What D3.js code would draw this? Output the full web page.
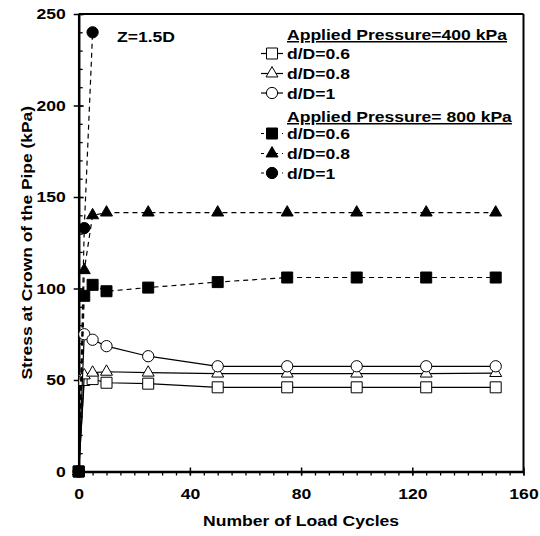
<html lang="en">
<head>
<meta charset="utf-8">
<title>Stress at crown of the pipe</title>
<style>
  body { margin: 0; background: white; }
  svg text { font-family: "Liberation Sans", Arial, Helvetica, sans-serif; font-weight: bold; fill: black; }
  .axis path, .axis line { stroke: black; }
</style>
</head>
<body>
<div id="chart"></div>
<script src="https://d3js.org/d3.v7.min.js"></script>
<script>
// data
var cycles = [0, 2, 5, 10, 25, 50, 75, 100, 125, 150];
var cyclesShort = [0, 2, 5];

var p400_d06 = [0, 50, 50.5, 48.5, 48, 46, 46, 46, 46, 46];
var p400_d08 = [0, 52.5, 54, 54.5, 54, 53.5, 53.5, 53.5, 53.5, 53.8];
var p400_d1  = [0, 75, 72, 68.5, 63, 57.5, 57.5, 57.5, 57.5, 57.5];
var p800_d06 = [0, 96, 102, 98.5, 100.5, 103.5, 106, 106, 106, 106];
var p800_d08 = [0, 110, 140, 141.5, 141.5, 141.5, 141.5, 141.5, 141.5, 141.5];
var p800_d1  = [0, 133, 240];

var xTicks = [0, 40, 80, 120, 160];
var yTicks = [0, 50, 100, 150, 200, 250];

var series = [
  { label: "d/D=0.6", x: cycles, y: p400_d06, shape: "square", filled: false, dashed: false },
  { label: "d/D=0.8", x: cycles, y: p400_d08, shape: "triangle", filled: false, dashed: false },
  { label: "d/D=1", x: cycles, y: p400_d1, shape: "circle", filled: false, dashed: false },
  { label: "d/D=0.6", x: cycles, y: p800_d06, shape: "square", filled: true, dashed: true },
  { label: "d/D=0.8", x: cycles, y: p800_d08, shape: "triangle", filled: true, dashed: true },
  { label: "d/D=1", x: cyclesShort, y: p800_d1, shape: "circle", filled: true, dashed: true }
];

var width = 540, height = 536;
var svg = d3.select("#chart").append("svg")
  .attr("width", width).attr("height", height);

var x = d3.scaleLinear().domain([0, 160]).range([78.7, 523.5]);
var y = d3.scaleLinear().domain([0, 250]).range([471.5, 14]);

var fs = 15;
// text in the source is wider than it is tall
function stretch(sel, k) {
  sel.each(function () {
    var w = this.getComputedTextLength();
    d3.select(this).attr("textLength", w * k).attr("lengthAdjust", "spacingAndGlyphs");
  });
}

// frame (top and right)
svg.append("line").attr("x1", x(0)).attr("x2", x(160)).attr("y1", y(250)).attr("y2", y(250))
  .attr("stroke", "black").attr("stroke-width", 2);
svg.append("line").attr("x1", x(160)).attr("x2", x(160)).attr("y1", y(0)).attr("y2", y(250))
  .attr("stroke", "black").attr("stroke-width", 2);

// minor ticks
svg.append("g").attr("class", "axis")
  .attr("transform", "translate(0," + y(0) + ")")
  .call(d3.axisBottom(x).tickValues(d3.range(0, 161, 5)).tickSize(4).tickSizeOuter(0).tickFormat(""))
  .call(function (g) { g.select(".domain").remove(); g.selectAll("line").attr("stroke-width", 1.3); });
svg.append("g").attr("class", "axis")
  .attr("transform", "translate(" + x(0) + ",0)")
  .call(d3.axisLeft(y).tickValues(d3.range(0, 251, 10)).tickSize(-4).tickSizeOuter(0).tickFormat(""))
  .call(function (g) { g.select(".domain").remove(); g.selectAll("line").attr("stroke-width", 1.3); });

// major axes
var xAxis = svg.append("g").attr("class", "axis")
  .attr("transform", "translate(0," + y(0) + ")")
  .call(d3.axisBottom(x).tickValues(xTicks).tickSize(4).tickSizeOuter(0).tickPadding(13));
xAxis.select(".domain").attr("stroke-width", 2.5);
xAxis.selectAll(".tick line").attr("y1", -4).attr("stroke-width", 1.5);
xAxis.selectAll("text").attr("font-size", fs).attr("font-family", null).call(stretch, 1.17);

var yAxis = svg.append("g").attr("class", "axis")
  .attr("transform", "translate(" + x(0) + ",0)")
  .call(d3.axisLeft(y).tickValues(yTicks).tickSize(5).tickSizeOuter(0).tickPadding(8));
yAxis.select(".domain").attr("stroke-width", 2.5);
yAxis.selectAll(".tick line").attr("x1", 5).attr("stroke-width", 1.5);
yAxis.selectAll("text").attr("font-size", fs).attr("font-family", null).call(stretch, 1.17);

// axis titles
svg.append("text")
  .attr("x", (x(0) + x(160)) / 2).attr("y", 526)
  .attr("text-anchor", "middle").attr("font-size", fs)
  .text("Number of Load Cycles").call(stretch, 1.17);
svg.append("text")
  .attr("transform", "translate(32," + ((y(0) + y(250)) / 2) + ") rotate(-90)")
  .attr("text-anchor", "middle").attr("font-size", fs)
  .text("Stress at Crown of the Pipe (kPa)").call(stretch, 1.16);

svg.append("text").attr("x", 117).attr("y", 42).attr("font-size", fs)
  .text("Z=1.5D").call(stretch, 1.17);

function symbolPath(shape) {
  var t = shape === "square" ? d3.symbolSquare : shape === "triangle" ? d3.symbolTriangle : d3.symbolCircle;
  var size = shape === "square" ? 121 : shape === "triangle" ? 62 : 100;
  return d3.symbol().type(t).size(size)();
}

var line = d3.line().x(function (d) { return x(d[0]); }).y(function (d) { return y(d[1]); });

// draw 400 kPa first, then 800 kPa with filled square last
var order = [0, 1, 2, 5, 4, 3];
order.forEach(function (i) {
  var s = series[i];
  var pts = s.x.map(function (v, j) { return [v, s.y[j]]; });
  svg.append("path").datum(pts)
    .attr("d", line).attr("fill", "none").attr("stroke", "black")
    .attr("stroke-width", 1.2)
    .attr("stroke-dasharray", s.dashed ? "5,4" : null);
  svg.append("g").selectAll("path").data(pts).join("path")
    .attr("transform", function (d) { return "translate(" + x(d[0]) + "," + y(d[1]) + ")"; })
    .attr("d", symbolPath(s.shape))
    .attr("fill", s.filled ? "black" : "white")
    .attr("stroke", "black").attr("stroke-width", 1);
});

// legend
var lg = svg.append("g");
var headers = ["Applied Pressure=400 kPa", "Applied Pressure= 800 kPa"];
var headerY = [40, 122];
var rowY = [53.5, 73.5, 93, 133.5, 153.5, 173];
headers.forEach(function (h, i) {
  lg.append("text").attr("x", 287).attr("y", headerY[i]).attr("font-size", fs)
    .attr("text-decoration", "underline").text(h).call(stretch, 1.17);
});
series.forEach(function (s, i) {
  var cy = rowY[i];
  lg.append("line").attr("x1", 261).attr("x2", 283).attr("y1", cy).attr("y2", cy)
    .attr("stroke", "black").attr("stroke-width", 1.2)
    .attr("stroke-dasharray", s.dashed ? "3,4" : null);
  lg.append("path").attr("transform", "translate(272," + cy + ")")
    .attr("d", symbolPath(s.shape))
    .attr("fill", s.filled ? "black" : "white").attr("stroke", "black");
  lg.append("text").attr("x", 287).attr("y", cy + 5.5).attr("font-size", fs)
    .text(s.label).call(stretch, 1.17);
});
</script>
</body>
</html>
